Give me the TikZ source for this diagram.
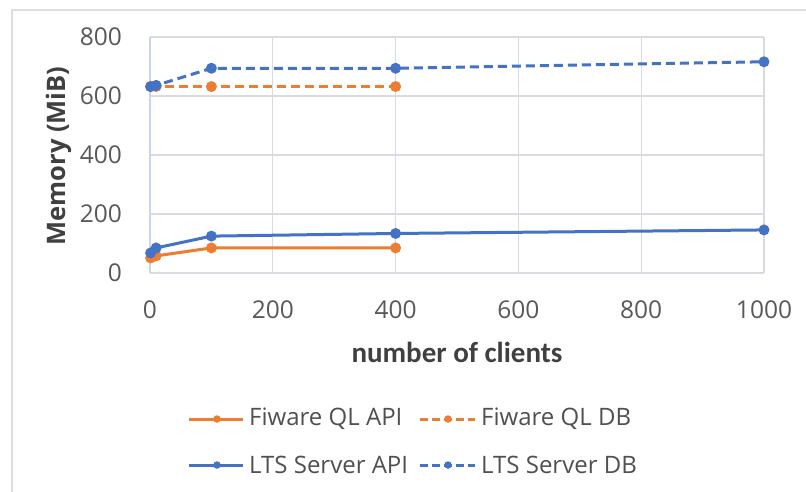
\documentclass[tikz,border=0pt]{standalone}
\usepackage{fontspec}
\setmainfont{Open Sans}
\newfontfamily\labelfont{Carlito}
\definecolor{fiorange}{HTML}{ED7D31}
\definecolor{ltsblue}{HTML}{4472C4}
\definecolor{gridgray}{HTML}{D9DBE3}
\definecolor{framegray}{HTML}{DCDEE6}
\definecolor{ticktext}{HTML}{595959}
\definecolor{titletext}{HTML}{404040}
\definecolor{legendtext}{HTML}{505050}
\tikzset{
  gridline/.style={draw=gridgray, line width=1.3pt},
  ticklabel/.style={font=\fontsize{24.5}{28}\selectfont, text=ticktext, inner sep=0pt},
  ytitlestyle/.style={font=\fontsize{25.5}{28}\selectfont\bfseries, text=titletext, inner sep=0pt},
  xtitlestyle/.style={font=\fontsize{29}{32}\selectfont\labelfont\bfseries, text=titletext, inner sep=0pt},
  legendlabel/.style={font=\fontsize{24}{27}\selectfont, text=legendtext, inner sep=0pt, anchor=west},
  series/.style={line width=3pt, line join=round, line cap=round},
  dbseries/.style={line width=3pt, dash pattern=on 9pt off 5pt},
  dotmark/.style={circle, fill=#1, inner sep=0pt, minimum size=11pt},
  smalldot/.style={circle, fill=#1, inner sep=0pt, minimum size=7.5pt},
}
\begin{document}
\begin{tikzpicture}[x=1pt, y=-1pt]
  \useasboundingbox (0,0) rectangle (806,492);
  \fill[white] (0,0) rectangle (806,492);
  % chart frame
  \draw[framegray, line width=1.3pt] (12,492) -- (12,10) -- (806,10);

  % plot area in data units: x = clients, y = MiB
  \begin{scope}[shift={(150,273)}, x=0.614pt, y=0.295pt]
    \foreach \v in {200,400,600,800}
      \draw[gridline] (0,\v) -- (1000,\v);
    \foreach \u in {200,400,600,800,1000}
      \draw[gridline] (\u,0) -- (\u,800);
    \draw[gridline] (0,0) -- (1000,0);
    \draw[gridline, draw=gridgray!70!ltsblue!60] (0,0) -- (0,800);

    % tick labels
    \foreach \v in {0,200,400,600,800}
      \node[ticklabel, anchor=east] (ylab\v) at ([xshift=-28pt]0,\v) {\v};
    \foreach \u in {0,200,400,600,800,1000}
      \node[ticklabel] (xlab\u) at ([yshift=-37pt]\u,0) {\u};

    % data points
    \coordinate (fa1) at (1,51);
    \coordinate (fa2) at (10,58);
    \coordinate (fa3) at (100,85);
    \coordinate (fa4) at (400,85);
    \coordinate (fd1) at (1,632);
    \coordinate (fd2) at (10,632);
    \coordinate (fd3) at (100,632);
    \coordinate (fd4) at (400,632);
    \coordinate (la1) at (1,68);
    \coordinate (la2) at (10,85);
    \coordinate (la3) at (100,125);
    \coordinate (la4) at (400,134);
    \coordinate (la5) at (1000,146);
    \coordinate (ld1) at (1,632);
    \coordinate (ld2) at (10,636);
    \coordinate (ld3) at (100,694);
    \coordinate (ld4) at (400,694);
    \coordinate (ld5) at (1000,716);
  \end{scope}

  % Fiware QL series
  \draw[series, fiorange] (fa1) -- (fa2) -- (fa3) -- (fa4);
  \draw[dbseries, fiorange] (fd1) -- (fd2) -- (fd3) -- (fd4);
  \foreach \p in {fa1,fa2,fa3,fa4,fd1,fd2,fd3,fd4}
    \node[dotmark=fiorange] (m\p) at (\p) {};

  % LTS Server series
  \draw[series, ltsblue] (la1) -- (la2) -- (la3) -- (la4) -- (la5);
  \draw[dbseries, ltsblue] (ld1) -- (ld2) -- (ld3) -- (ld4) -- (ld5);
  \foreach \p in {la1,la2,la3,la4,la5,ld1,ld2,ld3,ld4,ld5}
    \node[dotmark=ltsblue] (m\p) at (\p) {};

  % axis titles
  \node[ytitlestyle, rotate=90] (ytitle) at (59,156) {Memory (MiB)};
  \node[xtitlestyle] (xtitle) at (457,352) {number of clients};

  % legend
  \coordinate (ka1) at (189,419);  \coordinate (ka2) at (243,419);
  \coordinate (kb1) at (420,419);  \coordinate (kb2) at (475,419);
  \coordinate (kc1) at (189,465);  \coordinate (kc2) at (243,465);
  \coordinate (kd1) at (420,465);  \coordinate (kd2) at (475,465);
  \draw[series, fiorange, line cap=butt] (ka1) -- (ka2);
  \draw[fiorange, line width=3pt, dash pattern=on 8pt off 4pt] (kb1) -- (kb2);
  \draw[series, ltsblue, line cap=butt] (kc1) -- (kc2);
  \draw[ltsblue, line width=3pt, dash pattern=on 8pt off 4pt] (kd1) -- (kd2);
  \node[smalldot=fiorange] (ka) at (217,419) {};
  \node[smalldot=fiorange] (kb) at (448,419) {};
  \node[smalldot=ltsblue] (kc) at (217,465) {};
  \node[smalldot=ltsblue] (kd) at (448,465) {};
  \node[legendlabel] (ta) at (249,419) {Fiware QL API};
  \node[legendlabel] (tb) at (481,419) {Fiware QL DB};
  \node[legendlabel] (tc) at (249,465) {LTS Server API};
  \node[legendlabel] (td) at (481,465) {LTS Server DB};
\end{tikzpicture}
\end{document}
